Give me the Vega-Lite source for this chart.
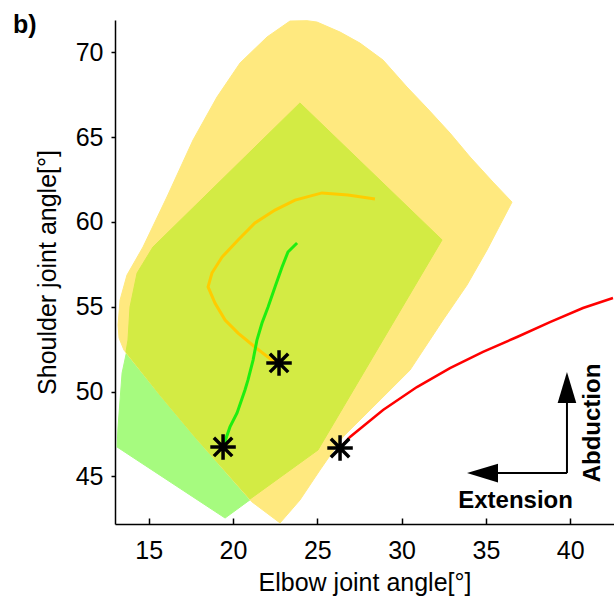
{
  "$schema": "https://vega.github.io/schema/vega-lite/v6.json",
  "width": 499,
  "height": 504,
  "autosize": {"type": "none"},
  "padding": {"left": 115, "top": 20, "right": 0, "bottom": 81},
  "background": "white",
  "config": {"view": {"stroke": null}, "font": "Liberation Sans"},
  "title": {"text": "b)", "anchor": "start", "frame": "group", "orient": "top", "offset": 0, "dx": -102, "dy": 38, "baseline": "alphabetic", "fontSize": 25, "fontWeight": "bold", "font": "Liberation Sans", "color": "black"},
  "datasets": {
    "greenRegion": [
      {"x": 23.97, "y": 67.01}, {"x": 32.40, "y": 58.94}, {"x": 25.04, "y": 46.56}, {"x": 19.53, "y": 42.55},
      {"x": 13.12, "y": 46.74}, {"x": 13.18, "y": 47.92}, {"x": 13.42, "y": 51.10}, {"x": 13.71, "y": 52.45},
      {"x": 13.89, "y": 54.99}, {"x": 14.31, "y": 56.99}, {"x": 15.25, "y": 58.52}
    ],
    "yellowRegion": [
      {"x": 23.38, "y": 71.84}, {"x": 24.39, "y": 71.86}, {"x": 24.98, "y": 71.78}, {"x": 26.35, "y": 71.19},
      {"x": 27.53, "y": 70.54}, {"x": 28.90, "y": 69.54}, {"x": 30.32, "y": 67.95}, {"x": 31.51, "y": 66.71},
      {"x": 32.87, "y": 65.24}, {"x": 34.06, "y": 63.83}, {"x": 35.42, "y": 62.35}, {"x": 36.55, "y": 61.17},
      {"x": 35.84, "y": 59.82}, {"x": 35.07, "y": 58.35}, {"x": 33.88, "y": 56.28}, {"x": 32.46, "y": 54.22},
      {"x": 30.50, "y": 51.27}, {"x": 27.95, "y": 48.74}, {"x": 26.52, "y": 47.33}, {"x": 25.16, "y": 45.38},
      {"x": 23.97, "y": 43.61}, {"x": 22.79, "y": 42.26}, {"x": 21.13, "y": 43.50}, {"x": 17.75, "y": 47.33},
      {"x": 15.67, "y": 49.80}, {"x": 13.53, "y": 52.45}, {"x": 13.24, "y": 53.16}, {"x": 13.18, "y": 53.93},
      {"x": 13.30, "y": 55.40}, {"x": 13.71, "y": 56.87}, {"x": 14.66, "y": 58.52}, {"x": 16.08, "y": 61.47},
      {"x": 17.63, "y": 64.83}, {"x": 19.05, "y": 67.36}, {"x": 20.42, "y": 69.37}, {"x": 22.02, "y": 70.90}
    ],
    "overlapRegion": [
      {"x": 23.97, "y": 67.01}, {"x": 32.40, "y": 58.94}, {"x": 25.04, "y": 46.56}, {"x": 21.01, "y": 43.67},
      {"x": 17.75, "y": 47.33}, {"x": 15.67, "y": 49.80}, {"x": 13.65, "y": 52.34}, {"x": 13.77, "y": 53.04},
      {"x": 13.89, "y": 54.99}, {"x": 14.31, "y": 56.99}, {"x": 15.25, "y": 58.52}
    ],
    "yellowPath": [
      {"x": 28.42, "y": 61.35}, {"x": 26.82, "y": 61.59}, {"x": 25.28, "y": 61.71}, {"x": 23.68, "y": 61.29},
      {"x": 22.49, "y": 60.70}, {"x": 21.30, "y": 59.94}, {"x": 20.30, "y": 58.94}, {"x": 19.35, "y": 57.93},
      {"x": 18.75, "y": 56.99}, {"x": 18.52, "y": 56.17}, {"x": 18.93, "y": 55.22}, {"x": 19.53, "y": 54.22},
      {"x": 20.30, "y": 53.45}, {"x": 21.30, "y": 52.63}, {"x": 22.31, "y": 51.86}, {"x": 22.73, "y": 51.69}
    ],
    "greenPath": [
      {"x": 23.80, "y": 58.76}, {"x": 23.26, "y": 58.23}, {"x": 22.91, "y": 57.34}, {"x": 22.49, "y": 56.17},
      {"x": 22.08, "y": 54.99}, {"x": 21.72, "y": 54.04}, {"x": 21.42, "y": 53.04}, {"x": 21.19, "y": 51.86},
      {"x": 20.89, "y": 50.69}, {"x": 20.71, "y": 50.10}, {"x": 20.24, "y": 48.74}, {"x": 19.82, "y": 47.92},
      {"x": 19.41, "y": 46.74}
    ],
    "redPath": [
      {"x": 26.35, "y": 46.68}, {"x": 26.94, "y": 47.33}, {"x": 28.90, "y": 48.92}, {"x": 30.91, "y": 50.27},
      {"x": 32.87, "y": 51.39}, {"x": 34.83, "y": 52.34}, {"x": 36.85, "y": 53.22}, {"x": 38.80, "y": 54.10},
      {"x": 40.76, "y": 54.93}, {"x": 42.54, "y": 55.52}
    ],
    "stars": [
      {"x": 22.73, "y": 51.69}, {"x": 19.41, "y": 46.74}, {"x": 26.35, "y": 46.68}
    ],
    "arrows": [
      {"x": 39.81, "y": 45.20, "x2": 39.81, "y2": 50.5},
      {"x": 39.81, "y": 45.20, "x2": 34.9, "y2": 45.20}
    ],
    "heads": [
      {"x": 39.81, "y": 50.24, "dir": "up"},
      {"x": 34.80, "y": 45.20, "dir": "left"}
    ],
    "notesH": [{"x": 36.76, "y": 43.14, "label": "Extension"}],
    "notesV": [{"x": 41.77, "y": 48.15, "label": "Abduction"}]
  },
  "encoding": {
    "x": {
      "field": "x", "type": "quantitative",
      "scale": {"domain": [13, 42.6], "nice": false, "zero": false},
      "axis": {
        "values": [15, 20, 25, 30, 35, 40], "title": "Elbow joint angle[°]", "grid": false,
        "domainColor": "black", "domainWidth": 1.5, "tickColor": "black", "tickWidth": 1.5, "tickSize": -6,
        "labelFontSize": 25, "labelColor": "black", "labelPadding": 20, "labelFont": "Liberation Sans",
        "titleFontSize": 25, "titleFontWeight": "normal", "titleColor": "black", "titleFont": "Liberation Sans",
        "titleY": 66, "titleBaseline": "alphabetic"
      }
    },
    "y": {
      "field": "y", "type": "quantitative",
      "scale": {"domain": [42.2, 71.9], "nice": false, "zero": false},
      "axis": {
        "values": [45, 50, 55, 60, 65, 70], "title": "Shoulder joint angle[°]", "grid": false,
        "domainColor": "black", "domainWidth": 1.5, "tickColor": "black", "tickWidth": 1.5, "tickSize": 4,
        "labelFontSize": 25, "labelColor": "black", "labelPadding": 8, "labelFont": "Liberation Sans",
        "titleFontSize": 25, "titleFontWeight": "normal", "titleColor": "black", "titleFont": "Liberation Sans",
        "titleAngle": 270, "titleX": -60, "titleY": 252, "titleBaseline": "alphabetic", "titleAlign": "center"
      }
    }
  },
  "layer": [
    {
      "data": {"name": "greenRegion"},
      "mark": {"type": "line", "interpolate": "linear-closed", "fill": "#A6FB7F", "stroke": "#A6FB7F", "strokeWidth": 1, "clip": true},
      "encoding": {"order": {"value": null}}
    },
    {
      "data": {"name": "yellowRegion"},
      "mark": {"type": "line", "interpolate": "linear-closed", "fill": "#FFE97F", "stroke": "#FFE97F", "strokeWidth": 1, "clip": true},
      "encoding": {"order": {"value": null}}
    },
    {
      "data": {"name": "overlapRegion"},
      "mark": {"type": "line", "interpolate": "linear-closed", "fill": "#D3EB44", "stroke": "#D3EB44", "strokeWidth": 1, "clip": true},
      "encoding": {"order": {"value": null}}
    },
    {
      "data": {"name": "yellowPath"},
      "mark": {"type": "line", "color": "#FFCC00", "strokeWidth": 3, "clip": true},
      "encoding": {"order": {"value": null}}
    },
    {
      "data": {"name": "greenPath"},
      "mark": {"type": "line", "color": "#1EEE10", "strokeWidth": 3, "clip": true},
      "encoding": {"order": {"value": null}}
    },
    {
      "data": {"name": "redPath"},
      "mark": {"type": "line", "color": "#FF0000", "strokeWidth": 2.5, "clip": true},
      "encoding": {"order": {"value": null}}
    },
    {
      "data": {"name": "stars"},
      "mark": {"type": "point", "shape": "M-1,0L1,0M0,-1L0,1M-0.72,-0.72L0.72,0.72M-0.72,0.72L0.72,-0.72", "filled": false, "stroke": "black", "strokeWidth": 3.5, "size": 650, "opacity": 1}
    },
    {
      "data": {"name": "arrows"},
      "mark": {"type": "rule", "color": "black", "strokeWidth": 2},
      "encoding": {"x2": {"field": "x2"}, "y2": {"field": "y2"}}
    },
    {
      "data": {"name": "heads"},
      "mark": {"type": "point", "filled": true, "color": "black", "size": 961, "opacity": 1},
      "encoding": {
        "shape": {"field": "dir", "type": "nominal", "scale": {"domain": ["up", "left"], "range": ["M0,-1L0.6,1L-0.6,1Z", "M-1,0L1,-0.6L1,0.6Z"]}, "legend": null}
      }
    },
    {
      "data": {"name": "notesH"},
      "mark": {"type": "text", "font": "Liberation Sans", "fontSize": 24, "fontWeight": "bold", "color": "black", "align": "center", "baseline": "alphabetic"},
      "encoding": {"text": {"field": "label"}}
    },
    {
      "data": {"name": "notesV"},
      "mark": {"type": "text", "font": "Liberation Sans", "fontSize": 24, "fontWeight": "bold", "color": "black", "align": "center", "baseline": "alphabetic", "angle": 270},
      "encoding": {"text": {"field": "label"}}
    }
  ]
}
